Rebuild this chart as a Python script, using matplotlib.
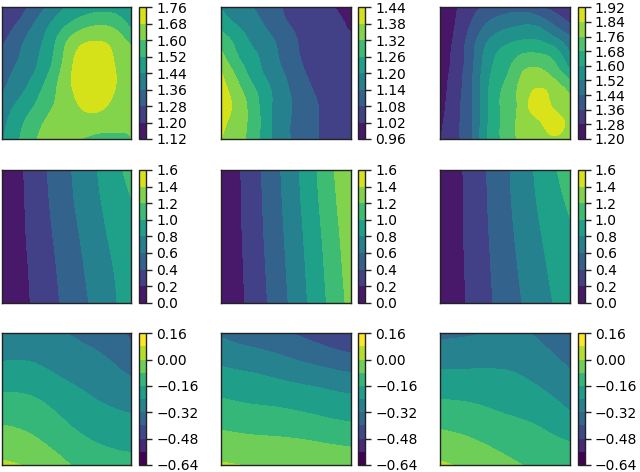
import numpy as np
import matplotlib
matplotlib.use("Agg")
import matplotlib.pyplot as plt
import matplotlib.tri as mtri

W, H = 640, 472
x9 = [0, .125, .25, .375, .5, .625, .75, .875, 1]
y9 = [0, .125, .25, .375, .5, .625, .75, .875, 1]
x5 = [0, .25, .5, .75, 1]
y5 = [0, .25, .5, .75, 1]
y6 = [0, .2, .4, .6, .8, 1]

levels_a = [1.12, 1.20, 1.28, 1.36, 1.44, 1.52, 1.60, 1.68, 1.76]
levels_b = [0.96, 1.02, 1.08, 1.14, 1.20, 1.26, 1.32, 1.38, 1.44]
levels_c = [1.20, 1.28, 1.36, 1.44, 1.52, 1.60, 1.68, 1.76, 1.84, 1.92]
levels_mid = [0.0, 0.2, 0.4, 0.6, 0.8, 1.0, 1.2, 1.4, 1.6]
levels_low = [-0.64, -0.56, -0.48, -0.40, -0.32, -0.24, -0.16, -0.08, 0.0, 0.08, 0.16]
ticks_low = [-0.64, -0.48, -0.32, -0.16, 0.0, 0.16]

z_a = [
    [1.195, 1.24, 1.31, 1.38, 1.445, 1.47, 1.49, 1.49, 1.49],
    [1.23, 1.285, 1.36, 1.44, 1.51, 1.565, 1.59, 1.57, 1.50],
    [1.26, 1.33, 1.40, 1.48, 1.59, 1.66, 1.675, 1.645, 1.58],
    [1.30, 1.355, 1.42, 1.50, 1.625, 1.72, 1.745, 1.67, 1.62],
    [1.325, 1.38, 1.44, 1.53, 1.645, 1.735, 1.755, 1.685, 1.625],
    [1.35, 1.41, 1.48, 1.565, 1.65, 1.72, 1.74, 1.68, 1.63],
    [1.385, 1.455, 1.52, 1.59, 1.635, 1.69, 1.70, 1.655, 1.625],
    [1.415, 1.49, 1.565, 1.615, 1.63, 1.635, 1.635, 1.625, 1.61],
    [1.43, 1.51, 1.59, 1.615, 1.61, 1.598, 1.585, 1.585, 1.60],
]
z_b = [
    [1.195, 1.16, 1.14, 1.105, 1.075, 1.06, 1.05, 1.02, 1.0],
    [1.24, 1.195, 1.16, 1.125, 1.085, 1.065, 1.05, 1.035, 1.01],
    [1.29, 1.24, 1.185, 1.15, 1.11, 1.07, 1.05, 1.04, 1.03],
    [1.34, 1.265, 1.215, 1.165, 1.12, 1.075, 1.05, 1.045, 1.04],
    [1.385, 1.305, 1.235, 1.18, 1.135, 1.09, 1.055, 1.05, 1.05],
    [1.41, 1.34, 1.27, 1.205, 1.15, 1.105, 1.07, 1.06, 1.06],
    [1.42, 1.36, 1.29, 1.21, 1.155, 1.115, 1.08, 1.07, 1.065],
    [1.40, 1.35, 1.295, 1.21, 1.15, 1.115, 1.08, 1.07, 1.065],
    [1.38, 1.345, 1.29, 1.21, 1.15, 1.115, 1.08, 1.07, 1.065],
]
z_c = [
    [1.215, 1.275, 1.335, 1.375, 1.40, 1.41, 1.37, 1.335, 1.30],
    [1.21, 1.285, 1.37, 1.45, 1.49, 1.51, 1.50, 1.43, 1.36],
    [1.215, 1.30, 1.41, 1.52, 1.575, 1.60, 1.60, 1.55, 1.465],
    [1.22, 1.31, 1.425, 1.565, 1.635, 1.69, 1.70, 1.66, 1.53],
    [1.225, 1.32, 1.435, 1.585, 1.665, 1.755, 1.785, 1.73, 1.63],
    [1.235, 1.33, 1.44, 1.60, 1.695, 1.785, 1.845, 1.81, 1.735],
    [1.24, 1.34, 1.44, 1.605, 1.70, 1.79, 1.875, 1.83, 1.79],
    [1.26, 1.345, 1.44, 1.605, 1.70, 1.785, 1.825, 1.875, 1.80],
    [1.27, 1.345, 1.435, 1.61, 1.695, 1.78, 1.80, 1.82, 1.79],
]
z_d = [
    [0.01, .288, .558, .81, 1.07],
    [0.01, .275, .535, .78, .99],
    [0.01, .26, .50, .74, .95],
    [0.01, .24, .47, .70, .91],
    [0.01, .225, .445, .67, .90],
]
z_e = [
    [0.01, .32, .653, 1.015, 1.39],
    [0.01, .31, .635, .99, 1.355],
    [0.01, .30, .615, .96, 1.32],
    [0.01, .285, .595, .935, 1.29],
    [0.01, .273, .575, .912, 1.26],
]
z_f = [
    [0.01, .28, .557, .833, 1.11],
    [0.01, .275, .545, .805, 1.03],
    [0.01, .27, .525, .77, .97],
    [0.01, .26, .505, .735, .94],
    [0.01, .25, .485, .70, .91],
]
z_g = [
    [-.315, -.31, -.32, -.35, -.415],
    [-.245, -.248, -.285, -.308, -.358],
    [-.177, -.185, -.228, -.265, -.30],
    [-.11, -.128, -.178, -.22, -.243],
    [-.05, -.075, -.128, -.17, -.19],
    [.012, -.015, -.072, -.118, -.13],
]
z_h = [
    [-.33, -.37, -.395, -.43, -.46],
    [-.258, -.28, -.31, -.345, -.375],
    [-.19, -.206, -.225, -.245, -.265],
    [-.124, -.14, -.15, -.17, -.19],
    [-.058, -.07, -.077, -.09, -.105],
    [.008, -.005, -.015, -.03, -.04],
]
z_i = [
    [-.338, -.326, -.312, -.33, -.41],
    [-.267, -.262, -.26, -.286, -.34],
    [-.196, -.20, -.21, -.24, -.29],
    [-.125, -.139, -.163, -.185, -.238],
    [-.057, -.08, -.113, -.14, -.167],
    [.01, -.02, -.06, -.095, -.12],
]

columns = [(1.7, 131.0, 139.0, 146.0), (220.7, 350.7, 358.3, 365.3), (440.0, 570.0, 577.7, 584.7)]
rows = [(7.3, 139.0), (170.0, 302.7), (333.3, 465.0)]
panels = [
    [(x9, y9, z_a, levels_a, levels_a), (x9, y9, z_b, levels_b, levels_b), (x9, y9, z_c, levels_c, levels_c)],
    [(x5, y5, z_d, levels_mid, levels_mid), (x5, y5, z_e, levels_mid, levels_mid), (x5, y5, z_f, levels_mid, levels_mid)],
    [(x5, y6, z_g, levels_low, ticks_low), (x5, y6, z_h, levels_low, ticks_low), (x5, y6, z_i, levels_low, ticks_low)],
]

fig = plt.figure(figsize=(W / 100, H / 100), dpi=100)


def box(x0, x1, y0, y1):
    return [x0 / W, 1 - y1 / H, (x1 - x0) / W, (y1 - y0) / H]


for r, (ytop, ybot) in enumerate(rows):
    for c, (xl, xr, cl, cr) in enumerate(columns):
        xs, ys, z, lev, tks = panels[r][c]
        ax = fig.add_axes(box(xl, xr, ytop, ybot))
        X, Y = np.meshgrid(xs, ys)
        Z = np.array(z).ravel()
        tri = mtri.Triangulation(X.ravel(), Y.ravel())
        refiner = mtri.UniformTriRefiner(tri)
        tri_f, z_f_ref = refiner.refine_field(Z, subdiv=4)
        z_f_ref = np.clip(z_f_ref, lev[0] + 1e-3, lev[-1] - 1e-3)
        kw = {"vmin": -0.60, "vmax": 0.12} if r == 2 else {}
        cs = ax.tricontourf(tri_f, z_f_ref, levels=lev, cmap="viridis", **kw)
        ax.set_xlim(0, 1)
        ax.set_ylim(1, 0)
        ax.set_xticks([])
        ax.set_yticks([])
        for s in ax.spines.values():
            s.set_linewidth(1.0)
            s.set_color("#222222")
        cax = fig.add_axes(box(cl, cr, ytop, ybot))
        cb = fig.colorbar(cs, cax=cax, ticks=tks)
        cb.ax.tick_params(labelsize=10.0, length=4, width=1.0, pad=3.3, color="#222222")
        cb.outline.set_linewidth(1.0)
        cb.outline.set_edgecolor("#222222")
        cb.ax.minorticks_off()

fig.savefig("out.png", dpi=100)
